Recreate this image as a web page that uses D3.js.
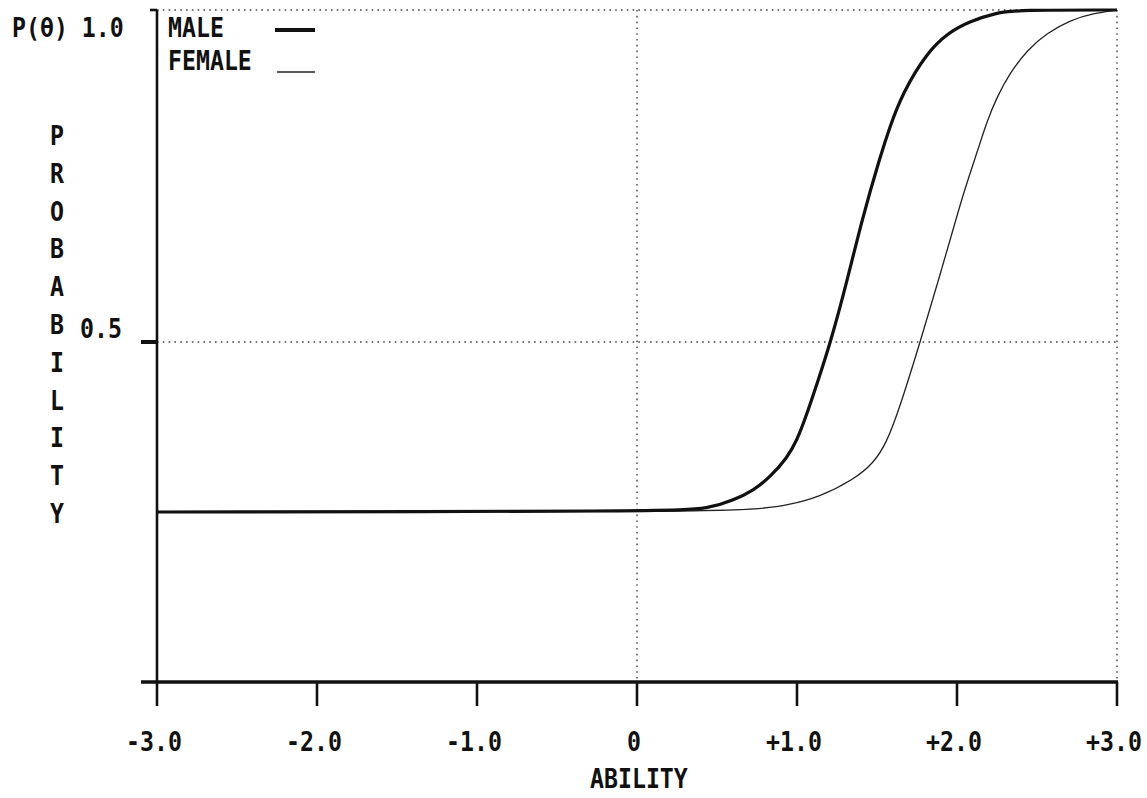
<!DOCTYPE html>
<html>
<head>
<meta charset="utf-8">
<script src="https://cdn.jsdelivr.net/npm/d3@7"></script>
<style>
  html, body { margin: 0; padding: 0; background: #fff; }
  svg { display: block; }
  text { font-family: "DejaVu Sans Mono", "Liberation Mono", monospace; font-weight: bold; fill: #111; }
</style>
</head>
<body>
<svg id="chart" width="1147" height="798"></svg>
<script>
// ---- data ----
const maleTheta   = [-3.0, 0.20, 0.45, 0.60, 0.73, 0.83, 0.94, 1.00, 1.05, 1.13, 1.21, 1.31, 1.41, 1.52, 1.58, 1.66, 1.81, 1.94, 2.08, 2.25, 2.38, 3.0];
const maleP       = [0.250, 0.251, 0.255, 0.267, 0.282, 0.301, 0.330, 0.356, 0.386, 0.442, 0.500, 0.589, 0.688, 0.779, 0.824, 0.875, 0.935, 0.965, 0.983, 0.996, 1.000, 1.000];
const femaleTheta = [-3.0, 0.45, 0.79, 0.94, 1.14, 1.35, 1.48, 1.56, 1.64, 1.77, 1.89, 1.98, 2.04, 2.13, 2.19, 2.25, 2.33, 2.44, 2.56, 2.71, 2.85, 3.0];
const femaleP     = [0.250, 0.250, 0.255, 0.260, 0.272, 0.297, 0.322, 0.352, 0.402, 0.500, 0.598, 0.673, 0.724, 0.789, 0.834, 0.869, 0.905, 0.940, 0.965, 0.985, 0.995, 1.000];
const xTicks      = [-3, -2, -1, 0, 1, 2, 3];
const xTickLabels = ["-3.0", "-2.0", "-1.0", "0", "+1.0", "+2.0", "+3.0"];
const yTicks      = [0.5, 1.0];
const yTickLabels = ["0.5", "P(θ) 1.0"];
const seriesNames = ["MALE", "FEMALE"];
const yTitle      = "PROBABILITY";
const xTitle      = "ABILITY";

const svg = d3.select("#chart");
const x = d3.scaleLinear().domain([-3, 3]).range([157, 1117]);
const y = d3.scaleLinear().domain([0, 0.5, 1]).range([682, 342, 10]);

const ink = "#111";
const FS = 27;
const SX = 0.86; // horizontal squeeze to mimic the narrow printer font

function label(g, str, px, py, anchor) {
  g.append("text")
    .attr("transform", `translate(${px},${py}) scale(${SX},1)`)
    .attr("text-anchor", anchor)
    .style("font-size", FS + "px")
    .text(str);
}

// dotted reference lines
const grid = svg.append("g").attr("stroke", "#444").attr("stroke-width", 1.4).attr("stroke-dasharray", "1.6,4.2");
yTicks.forEach(v => grid.append("line").attr("x1", x(-3)).attr("x2", x(3)).attr("y1", y(v)).attr("y2", y(v)));
[0, 3].forEach(v => grid.append("line").attr("x1", x(v)).attr("x2", x(v)).attr("y1", y(1)).attr("y2", y(0)));

// axes
const axes = svg.append("g").attr("stroke", ink).attr("fill", "none");
axes.append("line").attr("x1", x(-3)).attr("x2", x(-3)).attr("y1", y(1)).attr("y2", y(0)).attr("stroke-width", 2.6);
axes.append("line").attr("x1", x(-3) - 16).attr("x2", x(3) + 1).attr("y1", y(0)).attr("y2", y(0)).attr("stroke-width", 3.4);
// y ticks
axes.append("line").attr("x1", x(-3) - 7).attr("x2", x(-3)).attr("y1", y(1)).attr("y2", y(1)).attr("stroke-width", 2.6);
axes.append("line").attr("x1", x(-3) - 16).attr("x2", x(-3)).attr("y1", y(0.5)).attr("y2", y(0.5)).attr("stroke-width", 4);
// x ticks
xTicks.forEach(v => axes.append("line").attr("x1", x(v)).attr("x2", x(v)).attr("y1", y(0)).attr("y2", y(0) + 24).attr("stroke-width", 2.6));

// tick labels
const lab = svg.append("g");
xTicks.forEach((v, i) => label(lab, xTickLabels[i], x(v) - 3, 751, "middle"));
label(lab, yTickLabels[1], 12, 37, "start");
label(lab, yTickLabels[0], 80, 338, "start");

// axis titles
yTitle.split("").forEach((ch, i) => label(lab, ch, 57, 145 + i * 37.8, "middle"));
label(lab, xTitle, 590, 788, "start");

// curves
const line = d3.line().x(d => x(d[0])).y(d => y(d[1])).curve(d3.curveBasis);
const female = femaleTheta.map((t, i) => [t, femaleP[i]]);
const male = maleTheta.map((t, i) => [t, maleP[i]]);
svg.append("path").datum(female).attr("d", line).attr("fill", "none").attr("stroke", "#222").attr("stroke-width", 1.3);
svg.append("path").datum(male).attr("d", line).attr("fill", "none").attr("stroke", ink).attr("stroke-width", 3.2);

// legend
const leg = svg.append("g");
label(leg, seriesNames[0], 168, 37, "start");
label(leg, seriesNames[1], 168, 70, "start");
leg.append("line").attr("x1", 275).attr("x2", 315).attr("y1", 30).attr("y2", 30).attr("stroke", ink).attr("stroke-width", 4);
leg.append("line").attr("x1", 277).attr("x2", 315).attr("y1", 72).attr("y2", 72).attr("stroke", "#222").attr("stroke-width", 1.3);
</script>
</body>
</html>
